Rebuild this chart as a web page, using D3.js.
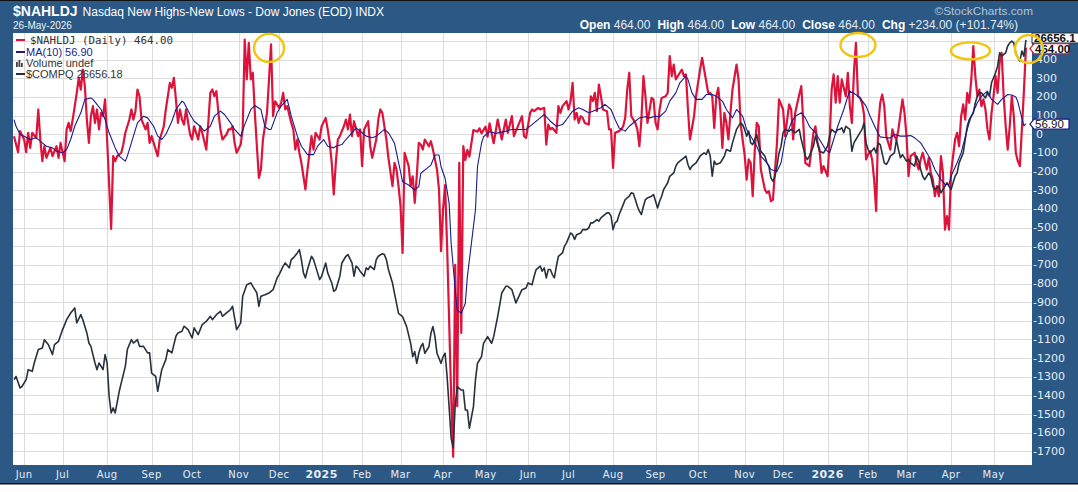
<!doctype html>
<html>
<head>
<meta charset="utf-8">
<style>
    body { margin: 0; background: #fff; }
    svg { display: block; }
    .grid { stroke: #dcdcdc; stroke-width: 1; shape-rendering: crispEdges; }
    .ylbl { fill: #e6edf4; font-family: "DejaVu Sans", Verdana, sans-serif; font-size: 11px; }
    .mon { fill: #e6edf4; font-family: "DejaVu Sans", Verdana, sans-serif; font-size: 10px; text-anchor: middle; letter-spacing: 0.4px; }
    .leg { font-family: "Liberation Sans", Arial, sans-serif; font-size: 11px; fill: #333; }
</style>
<script src="https://d3js.org/d3.v7.min.js"></script>
</head>
<body>
<svg width="1078" height="492"></svg>
<script>

// trading sessions per month, Jun 2024 .. May 2026 (day 0 = 3 Jun 2024)
var monthNames = ["Jun","Jul","Aug","Sep","Oct","Nov","Dec","2025","Feb","Mar","Apr","May",
                  "Jun","Jul","Aug","Sep","Oct","Nov","Dec","2026","Feb","Mar","Apr","May"];
var monthSessions = [19,22,22,20,23,20,21, 20,19,21,21,21,20,22,21,21,23,19,22, 20,19,22,21,17];

var yTicks = d3.range(-1700, 500, 100);

// $NAHLDJ daily, [session, value]
var nahl = [[-5,-10],[-3,-96],[-2,17],[0,-28],[1,-96],[2,8],[3,-73],[4,8],[6,-19],[7,133],[8,-28],[9,-144],[10,-64],[11,-126],[13,-73],[14,-117],[16,-64],[17,-126],[18,-46],[20,-144],
[21,26],[22,61],[23,17],[24,79],[26,222],[27,303],[28,240],[29,347],[30,258],[31,79],[32,-46],[33,97],[34,151],[35,61],[36,133],[37,26],[38,115],[39,97],[40,187],[41,-28],
[43,-507],[44,-117],[45,-144],[46,-117],[48,-99],[49,-55],[50,8],[51,43],[52,79],[53,133],[54,79],[55,124],[56,240],[57,204],[58,79],[60,26],[61,61],[62,-46],[63,-10],[65,-82],
[66,-117],[67,-28],[69,43],[70,133],[72,276],[73,249],[74,303],[75,187],[76,61],[77,133],[78,79],[79,52],[80,133],[82,-1],[83,-28],[84,43],[86,-28],[87,43],[88,8],[90,-82],
[91,61],[92,222],[93,240],[94,204],[95,231],[96,115],[97,26],[98,-28],[100,-1],[101,26],[102,26],[103,43],[104,-46],[105,-99],[107,-55],[108,26],[109,508],[110,294],[111,490],[112,294],
[113,330],[114,115],[115,-64],[116,-234],[117,-189],[118,-28],[120,115],[121,294],[122,482],[123,97],[124,177],[126,142],[127,168],[128,222],[129,133],[130,151],[132,61],[133,26],[134,-82],[135,-28],
[136,-99],[137,-153],[138,-225],[139,-296],[140,-189],[141,-99],[142,-10],[143,-82],[144,8],[146,-28],[147,43],[149,88],[150,26],[151,-46],[152,-153],[153,-323],[154,-153],[155,-28],[156,-10],[158,43],
[159,79],[160,26],[161,106],[162,-10],[163,70],[165,-10],[166,26],[167,-171],[168,26],[170,70],[171,-64],[172,-126],[174,-28],[175,79],[176,133],[177,115],[178,43],[179,-28],[180,-126],[182,-278],
[183,-153],[184,-189],[185,-278],[186,-386],[187,-636],[188,-99],[189,-135],[190,-171],[191,-278],[192,-225],[193,-368],[194,-225],[195,-46],[196,-55],[197,-82],[198,-28],[200,-64],[201,-37],[202,-82],[203,-135],
[204,-189],[205,-296],[206,-627],[207,-403],[208,-272],[209,-600],[210,-1000],[211,-1400],[212,-1729],[213,-700],[214,-1458],[215,-153],[216,-1065],[217,-64],[218,-138],[219,-84],[220,-120],[222,23],[224,14],[225,32],
[226,5],[228,41],[229,-13],[230,59],[231,5],[232,-48],[234,79],[236,-28],[238,79],[239,8],[241,97],[242,-10],[246,97],[247,-10],[248,-19],[250,115],[251,133],[252,124],[254,142],[255,133],
[257,142],[258,-55],[259,52],[260,26],[261,34],[263,8],[264,151],[265,115],[266,151],[268,178],[269,133],[270,178],[271,276],[272,79],[273,115],[274,61],[275,97],[276,88],[277,61],[279,52],
[280,204],[281,178],[282,222],[283,124],[284,267],[285,204],[286,133],[288,124],[289,26],[290,26],[291,-180],[292,8],[294,17],[295,26],[296,43],[297,88],[298,240],[299,330],[300,97],[302,61],
[303,26],[304,-64],[305,79],[306,312],[307,204],[308,61],[310,195],[311,186],[312,61],[313,26],[314,133],[315,195],[317,204],[318,222],[319,419],[320,312],[321,374],[322,294],[324,330],[325,347],
[326,312],[327,321],[328,133],[329,-28],[331,97],[332,204],[334,347],[335,410],[336,347],[338,222],[339,222],[340,204],[341,34],[342,204],[343,249],[344,133],[345,-73],[346,115],[347,61],[348,-28],
[349,115],[350,240],[352,374],[353,294],[354,61],[355,-28],[356,-109],[357,-243],[358,-135],[359,-153],[360,-332],[361,-91],[362,61],[363,43],[364,-189],[366,-296],[367,-314],[368,-305],[369,-359],[370,-350],
[372,-46],[373,187],[375,133],[376,-10],[378,160],[379,133],[380,-28],[381,115],[383,213],[384,258],[385,60],[386,-153],[388,-171],[389,-82],[390,8],[391,43],[392,-46],[393,-82],[394,-207],[395,-171],
[397,-225],[398,-28],[399,240],[400,321],[401,169],[402,312],[403,169],[404,294],[406,204],[407,330],[408,151],[409,61],[410,330],[411,490],[412,204],[413,195],[414,169],[415,106],[416,-135],[417,-109],
[418,-91],[419,-135],[420,-243],[421,-412],[422,43],[423,169],[424,213],[425,151],[426,-10],[427,-46],[428,-82],[429,26],[430,-10],[431,-28],[432,26],[434,187],[435,115],[436,-10],[437,-225],[438,-117],
[440,-99],[441,-153],[442,-189],[443,-135],[444,-99],[446,-189],[447,-126],[448,-207],[449,-243],[450,-332],[451,-278],[452,-332],[453,-117],[454,-207],[455,-511],[456,-439],[457,-511],[458,-207],[459,-117],[460,-28],
[461,8],[462,-64],[463,97],[464,160],[465,79],[466,222],[467,169],[468,294],[469,473],[470,312],[471,204],[472,240],[473,151],[474,187],[475,133],[476,26],[477,-28],[478,115],[479,204],[480,312],
[481,222],[482,383],[483,437],[484,204],[485,43],[486,-82],[487,43],[488,204],[489,97],[490,-99],[491,-144],[492,-171],[493,26],[494,230],[495,464]];

// MA(10) of $NAHLDJ, [session, value]
var ma10 = [[-5,79],[-4,43],[-2,-1],[0,-10],[3,-28],[6,-19],[9,-46],[11,-64],[14,-73],[16,-91],[19,-99],[21,-82],[23,-28],[25,43],[28,115],[30,187],[33,195],[34,187],[36,160],[38,133],
[40,79],[42,8],[45,-73],[47,-117],[50,-144],[51,-117],[54,-10],[56,61],[59,97],[61,88],[64,43],[66,-10],[68,-28],[70,-1],[73,70],[75,133],[78,178],[79,169],[82,106],[84,70],
[87,43],[89,17],[92,43],[94,97],[97,124],[99,106],[102,61],[104,26],[107,-10],[109,52],[112,133],[114,154],[117,133],[119,40],[121,26],[122,26],[125,115],[127,151],[130,187],[132,97],
[135,-10],[137,-64],[140,-109],[143,-109],[145,-64],[148,-28],[150,-64],[153,-73],[154,-64],[157,-55],[159,-28],[162,8],[164,34],[167,8],[169,-10],[172,-19],[174,-10],[177,17],[178,26],[180,8],
[182,-28],[183,-48],[187,-254],[190,-272],[193,-299],[195,-281],[196,-209],[199,-183],[201,-165],[203,-111],[205,-111],[206,-174],[208,-236],[210,-370],[211,-585],[213,-835],[214,-942],[216,-960],[218,-906],[219,-763],
[221,-585],[223,-406],[224,-174],[226,-48],[227,-13],[230,14],[233,5],[238,17],[241,26],[244,26],[248,26],[252,61],[255,88],[257,106],[260,70],[263,43],[266,52],[268,79],[271,124],[274,142],
[276,133],[279,115],[281,124],[285,142],[287,160],[290,133],[292,79],[294,34],[297,17],[299,43],[302,70],[304,88],[307,94],[309,88],[312,97],[314,94],[317,124],[319,178],[322,222],[324,276],
[327,312],[328,294],[330,222],[332,187],[335,187],[337,213],[340,213],[342,204],[345,178],[347,133],[350,88],[352,133],[355,97],[357,26],[360,-28],[362,-64],[364,-117],[367,-153],[369,-189],[372,-200],
[374,-153],[376,-28],[379,61],[381,97],[384,115],[386,88],[388,43],[391,8],[393,-28],[396,-82],[398,-99],[400,-28],[402,43],[405,133],[407,204],[408,231],[411,213],[413,195],[416,151],[418,97],
[421,26],[423,-14],[426,-19],[428,-19],[430,-1],[433,-10],[435,-10],[438,-7],[440,-19],[443,-46],[445,-82],[448,-135],[450,-189],[453,-243],[455,-269],[457,-269],[458,-225],[461,-153],[463,-99],[466,26],
[468,97],[471,169],[473,204],[476,231],[478,187],[481,160],[483,187],[486,213],[488,211],[490,200],[491,175],[492,130],[493,87],[494,45],[495,56.9]];

// $COMPQ close, [session, value]
var compq = [[-5,17125],[-4,17214],[-2,16890],[-1,16937],[1,17125],[2,17403],[4,17356],[5,17591],[7,17968],[9,18010],[10,18245],[12,18104],[14,17827],[15,18104],[17,18198],[19,18528],[21,18805],[23,18994],[25,19135],[26,18716],
[28,18947],[29,18805],[31,18434],[32,18151],[33,18057],[35,17591],[36,17403],[37,17591],[39,17403],[40,17827],[41,17591],[42,16654],[43,16188],[44,16330],[45,16188],[47,16796],[48,17031],[50,17497],[51,17968],[53,18245],
[54,18151],[56,18245],[57,18057],[59,18057],[61,17874],[62,17874],[63,17308],[65,17214],[66,16796],[68,17403],[70,17685],[71,17968],[73,17874],[75,18340],[76,18434],[78,18481],[79,18622],[81,18528],[83,18292],[84,18575],
[86,18387],[88,18669],[90,18758],[92,18900],[93,18805],[95,18947],[97,19041],[98,18900],[100,18994],[102,19088],[103,19182],[105,18528],[107,18716],[108,19465],[110,19789],[112,19837],[113,19742],[115,19554],[116,19182],[117,19465],
[119,19507],[121,19554],[123,19648],[125,19978],[126,20072],[128,20308],[129,20397],[131,20260],[132,20491],[133,20538],[135,20679],[136,20773],[137,20491],[138,20119],[139,19978],[140,20213],[142,20585],[143,20491],[145,20119],[146,19931],
[147,20025],[149,20397],[150,20119],[152,19837],[153,19601],[154,19648],[156,20025],[157,20397],[159,20585],[160,20632],[162,20397],[163,20025],[164,20308],[165,20260],[166,20166],[168,20025],[169,20260],[170,20213],[171,20308],[173,20213],
[174,20491],[175,20585],[177,20658],[178,20632],[179,20491],[180,20213],[182,19837],[183,19543],[185,18983],[187,18889],[189,18612],[191,18141],[192,17769],[193,17910],[194,17581],[195,17863],[196,18046],[197,18141],[198,17863],[200,18046],
[201,18423],[202,18612],[203,18329],[204,17863],[206,17581],[207,17769],[208,17863],[209,17209],[211,15477],[212,15215],[213,16419],[214,16926],[216,16832],[217,16832],[218,16272],[219,16272],[220,15759],[222,16366],[223,17115],[224,17581],
[225,17675],[226,17769],[227,18141],[229,18329],[230,18235],[231,18141],[232,18329],[234,18900],[236,19554],[238,19742],[239,19742],[241,19648],[242,19465],[243,19276],[244,19402],[246,19648],[248,19695],[249,19837],[251,19789],[252,20025],
[253,20213],[255,20308],[256,20166],[257,20260],[258,19978],[259,20213],[260,20213],[261,20072],[262,19978],[263,20308],[264,20585],[266,20679],[267,20868],[268,20962],[270,21239],[271,21192],[272,21056],[273,21192],[275,21239],[276,21333],
[278,21333],[279,21381],[280,21522],[281,21522],[283,21616],[284,21569],[285,21663],[286,21710],[288,21804],[289,21804],[290,21710],[291,21333],[292,21522],[293,21569],[294,21757],[295,21893],[296,22035],[297,22176],[299,22270],[300,22365],
[301,22344],[302,22176],[303,21988],[304,21852],[305,21757],[306,21988],[307,22176],[308,22223],[310,22270],[311,22317],[312,22129],[313,21941],[314,22129],[315,22270],[316,22459],[317,22553],[318,22647],[319,22830],[321,22925],[322,23113],
[323,23207],[324,23254],[326,23349],[327,23396],[328,23160],[329,23019],[330,23113],[332,23207],[333,23301],[334,23396],[335,23443],[336,23485],[337,23443],[338,23579],[339,23396],[340,22830],[341,23254],[342,23160],[344,23207],[345,23301],
[346,23396],[347,23579],[349,23532],[350,23767],[351,23956],[352,24144],[354,24327],[355,24280],[356,24144],[357,23956],[358,24097],[359,23767],[360,23720],[361,23861],[362,24003],[363,23720],[364,23532],[366,23396],[367,23207],[368,23113],
[369,22783],[370,22689],[371,22830],[372,23118],[373,23485],[374,23673],[375,24050],[376,24144],[378,24097],[379,24144],[381,24050],[383,24144],[384,23861],[386,23396],[387,23301],[388,23396],[390,23673],[391,23956],[392,23767],[393,23532],
[395,23485],[397,23673],[398,23956],[399,24144],[401,24050],[402,24144],[403,24144],[404,24191],[405,24050],[406,24233],[408,24144],[409,23532],[410,23767],[411,23861],[412,23956],[414,24144],[415,24327],[416,23767],[417,23579],[418,23485],
[420,23626],[421,23485],[422,23767],[423,23720],[425,23207],[426,23160],[427,23254],[428,23396],[430,23485],[431,23861],[432,23579],[433,23349],[434,23437],[436,23254],[437,23301],[438,23207],[440,23113],[441,23396],[442,23254],[443,23019],
[444,22830],[445,22736],[447,22925],[448,22830],[449,22553],[450,22459],[452,22553],[453,22365],[454,22459],[455,22553],[456,22647],[458,22459],[459,22647],[460,22830],[461,22925],[462,23207],[464,23485],[465,23861],[466,24233],[467,24421],
[469,24610],[470,24893],[471,25076],[472,25170],[473,25170],[475,25029],[476,25170],[477,25076],[478,25453],[480,25735],[481,25918],[482,26295],[483,26201],[485,26295],[486,26484],[487,26573],[488,26620],[489,26573],[490,26295],[491,26154],
[492,26060],[493,26342],[494,26201],[495,26656.18]];

// yellow circles drawn on the chart, [session, value, rx, ry]
var marks = [[121,463,15,14],[412,479,17.5,12],[467.6,447,19.5,8.5],[496.5,457,14,14]];

var svg = d3.select("svg"),
    W = 1078,
    plot = {left: 13, top: 33, right: 1032, bottom: 465},
    blue = "#2b5885",
    red = "#dc143c",
    navy = "#1b1b8a",
    slate = "#26313e";

var x = d3.scaleLinear().domain([-5.5, 498]).range([plot.left, plot.right]);
var y = d3.scaleLinear().domain([-1773, 543]).range([plot.bottom, plot.top]);
var yC = d3.scaleLinear().domain(d3.extent(compq, function(d) { return d[1]; }))
    .range([y(-1680), y(506)]);

var monthStart = [], acc = 0;
monthSessions.forEach(function(n) { monthStart.push(acc); acc += n; });

// frame
svg.append("rect").attr("width", W).attr("height", 492).attr("fill", "#fff");
svg.append("rect").attr("width", W).attr("height", 483).attr("fill", blue);
svg.append("rect").attr("y", 483).attr("width", W).attr("height", 1.5).attr("fill", "#111");
svg.append("rect").attr("width", W).attr("height", 1).attr("fill", "#111");
svg.append("rect")
    .attr("x", plot.left).attr("y", plot.top)
    .attr("width", plot.right - plot.left).attr("height", plot.bottom - plot.top)
    .attr("fill", "#fff");

svg.append("clipPath").attr("id", "clip")
    .append("rect")
    .attr("x", plot.left).attr("y", plot.top)
    .attr("width", plot.right - plot.left).attr("height", plot.bottom - plot.top);

// grid
var grid = svg.append("g");
grid.selectAll(".h").data(d3.range(-1700, 600, 100)).enter().append("line")
    .attr("class", "grid")
    .attr("x1", plot.left).attr("x2", plot.right)
    .attr("y1", function(d) { return Math.round(y(d)) + 0.5; })
    .attr("y2", function(d) { return Math.round(y(d)) + 0.5; });
grid.selectAll(".v").data(monthStart).enter().append("line")
    .attr("class", "grid")
    .attr("y1", plot.top).attr("y2", plot.bottom)
    .attr("x1", function(d) { return Math.round(x(d)) + 0.5; })
    .attr("x2", function(d) { return Math.round(x(d)) + 0.5; });

// series
var g = svg.append("g").attr("clip-path", "url(#clip)");
var line = d3.line().x(function(d) { return x(d[0]); }).y(function(d) { return y(d[1]); });
var lineC = d3.line().x(function(d) { return x(d[0]); }).y(function(d) { return yC(d[1]); });

g.append("path").datum(nahl).attr("d", line)
    .attr("fill", "none").attr("stroke", red).attr("stroke-width", 2.2)
    .attr("stroke-linejoin", "round");
g.append("path").datum(compq).attr("d", lineC)
    .attr("fill", "none").attr("stroke", slate).attr("stroke-width", 1.6)
    .attr("stroke-linejoin", "round");
g.append("path").datum(ma10).attr("d", line)
    .attr("fill", "none").attr("stroke", navy).attr("stroke-width", 1.1)
    .attr("stroke-linejoin", "round");

// legend
var last = nahl[nahl.length - 1][1],
    prev = nahl[nahl.length - 2][1],
    maLast = ma10[ma10.length - 1][1],
    cLast = compq[compq.length - 1][1];
var f2 = d3.format(".2f");

var leg = svg.append("g");
leg.append("line").attr("x1", 16).attr("x2", 25).attr("y1", 40).attr("y2", 40)
    .attr("stroke", red).attr("stroke-width", 2);
leg.append("text").attr("x", 30).attr("y", 44)
    .style("font-family", "'DejaVu Sans Mono', monospace").style("font-size", "10.8px").attr("fill", "#333")
    .text("$NAHLDJ (Daily) " + f2(last));
leg.append("line").attr("x1", 16).attr("x2", 25).attr("y1", 52).attr("y2", 52)
    .attr("stroke", navy).attr("stroke-width", 2);
leg.append("text").attr("class", "leg").attr("x", 26).attr("y", 56).style("fill", navy)
    .text("MA(10) " + f2(maLast));
[[16, 62], [18.5, 60], [21, 63]].forEach(function(b) {
    leg.append("rect").attr("x", b[0]).attr("y", b[1]).attr("width", 1.8).attr("height", 67 - b[1])
        .attr("fill", "#444");
});
leg.append("text").attr("class", "leg").attr("x", 26).attr("y", 67).text("Volume undef");
leg.append("line").attr("x1", 16).attr("x2", 25).attr("y1", 74).attr("y2", 74)
    .attr("stroke", slate).attr("stroke-width", 2);
leg.append("text").attr("class", "leg").attr("x", 26).attr("y", 78).text("$COMPQ " + f2(cLast));

// right axis
svg.append("g").selectAll("text").data(yTicks).enter().append("text")
    .attr("class", "ylbl")
    .attr("x", function(d) { return d < 0 ? 1033 : 1036; })
    .attr("y", function(d) { return y(d) + 3.5; })
    .text(function(d) { return String(d); });

// price tags on the right axis
function tag(cy, txt, border, bold) {
    var t = svg.append("g");
    t.append("path")
        .attr("d", "M1030," + cy + "L1034," + (cy - 5) + "H1069V" + (cy + 5) + "H1034Z")
        .attr("fill", "#fff").attr("stroke", border).attr("stroke-width", 1.2);
    t.append("text").attr("x", 1035).attr("y", cy + 4)
        .style("font-family", "'Liberation Sans', Arial, sans-serif")
        .style("font-size", "11.5px").style("font-weight", bold ? "bold" : "normal")
        .attr("fill", "#111").text(txt);
}
svg.append("rect").attr("x", 1032).attr("y", plot.top).attr("width", 50).attr("height", 10)
    .attr("fill", "#fff").attr("stroke", slate);
svg.append("text").attr("x", 1034).attr("y", plot.top + 9)
    .style("font-family", "'Liberation Sans', Arial, sans-serif").style("font-size", "11.5px")
    .style("font-weight", "bold").attr("fill", "#111").text(d3.format(".1f")(Math.floor(cLast * 10) / 10));
tag(y(last) + 1, f2(last), red, true);
tag(y(maLast) + 0.5, f2(maLast), navy, false);

// month axis
svg.append("g").selectAll("text").data(monthNames).enter().append("text")
    .attr("class", "mon")
    .attr("x", function(d, i) { return x(monthStart[i]); })
    .attr("y", 478)
    .style("font-weight", function(d) { return /^\d{4}$/.test(d) ? "bold" : "normal"; })
    .style("font-size", function(d) { return /^\d{4}$/.test(d) ? "11px" : "10px"; })
    .text(function(d) { return d; });

// header
var hf = "'Liberation Sans', Arial, sans-serif";
var title = svg.append("text").attr("x", 13).attr("y", 16).attr("fill", "#fff").style("font-family", hf);
title.append("tspan").style("font-size", "14px").style("font-weight", "bold").text("$NAHLDJ");
title.append("tspan").attr("dx", 5).style("font-size", "12px").text("Nasdaq New Highs-New Lows - Dow Jones (EOD) INDX");
svg.append("text").attr("x", 13).attr("y", 28.5).attr("fill", "#eef2f6")
    .style("font-family", hf).style("font-size", "10px").text("26-May-2026");
svg.append("text").attr("x", 1033).attr("y", 15).attr("text-anchor", "end").attr("fill", "#b3c6d9")
    .style("font-family", hf).style("font-size", "11.8px").text("\u00a9StockCharts.com");

var chg = last - prev;
var ohlc = [["Open", f2(last)], ["High", f2(last)], ["Low", f2(last)], ["Close", f2(last)],
            ["Chg", "+" + f2(chg) + " (+" + f2(chg / prev * 100) + "%)"]];
var q = svg.append("text").attr("x", 1018).attr("y", 29).attr("text-anchor", "end")
    .style("font-family", hf).style("font-size", "12px");
ohlc.forEach(function(p, i) {
    q.append("tspan").attr("dx", i ? 7 : 0).style("font-weight", "bold").attr("fill", "#fff").text(p[0] + " ");
    q.append("tspan").attr("fill", "#e3eaf1").text(p[1]);
});

// yellow annotation circles
svg.append("g").selectAll("ellipse").data(marks).enter().append("ellipse")
    .attr("cx", function(d) { return x(d[0]); })
    .attr("cy", function(d) { return y(d[1]); })
    .attr("rx", function(d) { return d[2]; })
    .attr("ry", function(d) { return d[3]; })
    .attr("fill", "none").attr("stroke", "#f1c40f").attr("stroke-width", 2.4);

</script>
</body>
</html>
